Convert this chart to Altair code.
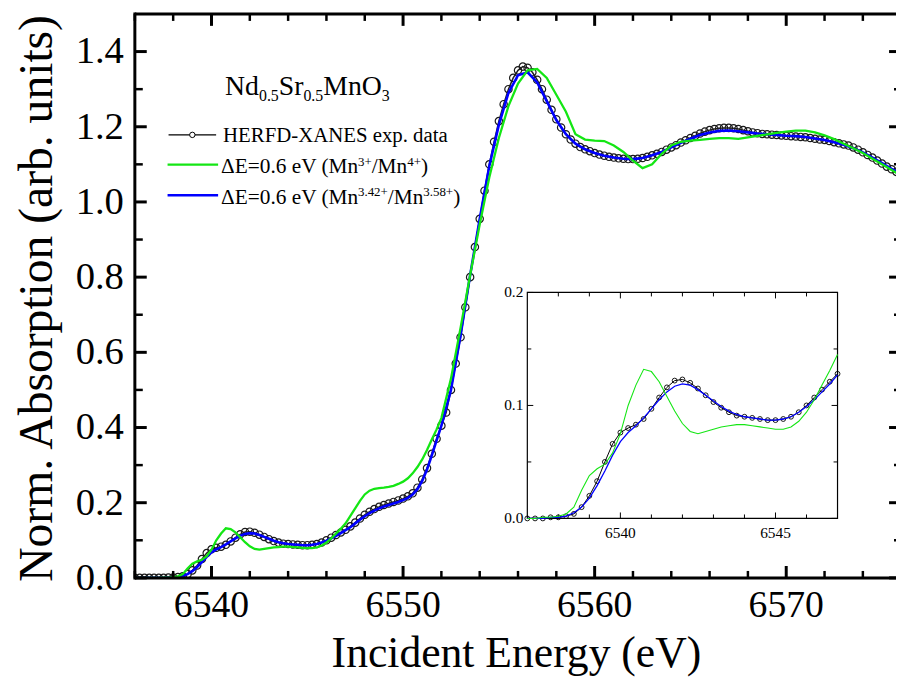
import altair as alt
import numpy as np
import pandas as pd

# ---------------- data ----------------
E_BLACK = np.round(np.arange(6536.0, 6576.001, 0.25), 2)
HERFD = [
    0.000, 0.000, 0.000, 0.000, 0.000, 0.000, 0.000, 0.001,   # 6536.00-6537.75
    0.001, 0.002, 0.004, 0.010, 0.020, 0.033, 0.050, 0.066,   # 6538.00-6539.75
    0.076, 0.080, 0.083, 0.088, 0.097, 0.107, 0.116, 0.122,   # 6540.00-6541.75
    0.123, 0.120, 0.115, 0.109, 0.103, 0.098, 0.094, 0.091,   # 6542.00-6543.75
    0.090, 0.089, 0.088, 0.087, 0.087, 0.088, 0.090, 0.094,   # 6544.00-6545.75
    0.100, 0.107, 0.114, 0.121, 0.128, 0.137, 0.147, 0.158,   # 6546.00-6547.75
    0.168, 0.176, 0.183, 0.189, 0.194, 0.198, 0.202, 0.206,   # 6548.00-6549.75
    0.211, 0.217, 0.225, 0.240, 0.262, 0.292, 0.330, 0.370,   # 6550.00-6551.75
    0.405, 0.440, 0.500, 0.570, 0.640, 0.720, 0.800, 0.880,   # 6552.00-6553.75
    0.955, 1.030, 1.100, 1.160, 1.215, 1.260, 1.300, 1.330,   # 6554.00-6555.75
    1.350, 1.360, 1.357, 1.345, 1.325, 1.300, 1.272, 1.245,   # 6556.00-6557.75
    1.220, 1.198, 1.180, 1.166, 1.155, 1.146, 1.140, 1.135,   # 6558.00-6559.75
    1.130, 1.126, 1.123, 1.120, 1.118, 1.116, 1.115, 1.114,   # 6560.00-6561.75
    1.114, 1.115, 1.117, 1.120, 1.124, 1.128, 1.133, 1.139,   # 6562.00-6563.75
    1.145, 1.151, 1.158, 1.164, 1.170, 1.176, 1.182, 1.187,   # 6564.00-6565.75
    1.191, 1.194, 1.196, 1.197, 1.197, 1.196, 1.194, 1.191,   # 6566.00-6567.75
    1.188, 1.185, 1.183, 1.181, 1.180, 1.179, 1.178, 1.177,   # 6568.00-6569.75
    1.176, 1.175, 1.174, 1.173, 1.172, 1.170, 1.168, 1.166,   # 6570.00-6571.75
    1.165, 1.162, 1.159, 1.156, 1.153, 1.150, 1.145, 1.139,   # 6572.00-6573.75
    1.132, 1.125, 1.118, 1.110, 1.102, 1.094, 1.087, 1.080,   # 6574.00-6575.75
    1.074,                                                    # 6576.00
]

E_CALC = np.concatenate([np.round(np.arange(6536.0, 6552.001, 0.25), 2),
                         np.round(np.arange(6552.5, 6576.001, 0.5), 2)])
CALC_GREEN = [
    0.000, 0.000, 0.000, 0.000, 0.000, 0.000, 0.001, 0.001,   # 6536.00-6537.75
    0.002, 0.004, 0.010, 0.025, 0.038, 0.044, 0.048, 0.058,   # 6538.00-6539.75
    0.075, 0.100, 0.118, 0.132, 0.130, 0.121, 0.108, 0.095,   # 6540.00-6541.75
    0.084, 0.077, 0.075, 0.077, 0.079, 0.081, 0.082, 0.083,   # 6542.00-6543.75
    0.083, 0.082, 0.081, 0.080, 0.079, 0.079, 0.081, 0.086,   # 6544.00-6545.75
    0.094, 0.105, 0.118, 0.131, 0.145, 0.165, 0.185, 0.205,   # 6546.00-6547.75
    0.222, 0.232, 0.237, 0.239, 0.240, 0.242, 0.245, 0.250,   # 6548.00-6549.75
    0.256, 0.265, 0.278, 0.295, 0.315, 0.340, 0.368, 0.395,   # 6550.00-6551.75
    0.425,                                                    # 6552.00
    0.530, 0.665, 0.805, 0.940, 1.065, 1.170, 1.255, 1.315,   # 6552.5-6556.0
    1.350, 1.354, 1.330, 1.285, 1.240, 1.180, 1.166, 1.163,   # 6556.5-6560.0
    1.162, 1.150, 1.133, 1.110, 1.090, 1.100, 1.128, 1.150,   # 6560.5-6564.0
    1.160, 1.163, 1.165, 1.168, 1.170, 1.170, 1.168, 1.172,   # 6564.5-6568.0
    1.176, 1.180, 1.184, 1.187, 1.190, 1.190, 1.185, 1.177,   # 6568.5-6572.0
    1.167, 1.155, 1.143, 1.130, 1.115, 1.100, 1.085, 1.070,   # 6572.5-6576.0
]
CALC_BLUE = [
    0.000, 0.000, 0.000, 0.000, 0.000, 0.000, 0.000, 0.001,   # 6536.00-6537.75
    0.001, 0.002, 0.005, 0.010, 0.018, 0.029, 0.042, 0.056,   # 6538.00-6539.75
    0.068, 0.076, 0.082, 0.089, 0.097, 0.105, 0.112, 0.117,   # 6540.00-6541.75
    0.119, 0.118, 0.114, 0.109, 0.104, 0.099, 0.095, 0.092,   # 6542.00-6543.75
    0.090, 0.089, 0.088, 0.087, 0.087, 0.088, 0.090, 0.094,   # 6544.00-6545.75
    0.099, 0.105, 0.112, 0.119, 0.127, 0.135, 0.145, 0.155,   # 6546.00-6547.75
    0.164, 0.172, 0.179, 0.185, 0.190, 0.194, 0.198, 0.202,   # 6548.00-6549.75
    0.207, 0.213, 0.222, 0.236, 0.258, 0.288, 0.326, 0.366,   # 6550.00-6551.75
    0.405,                                                    # 6552.00
    0.500, 0.645, 0.805, 0.955, 1.095, 1.205, 1.290, 1.337,   # 6552.5-6556.0
    1.345, 1.318, 1.268, 1.218, 1.180, 1.155, 1.140, 1.130,   # 6556.5-6560.0
    1.123, 1.118, 1.115, 1.114, 1.117, 1.124, 1.133, 1.145,   # 6560.5-6564.0
    1.157, 1.168, 1.178, 1.185, 1.189, 1.190, 1.188, 1.185,   # 6564.5-6568.0
    1.182, 1.180, 1.178, 1.176, 1.175, 1.173, 1.169, 1.165,   # 6568.5-6572.0
    1.159, 1.152, 1.143, 1.132, 1.118, 1.103, 1.088, 1.075,   # 6572.5-6576.0
]

X_DOMAIN = [6536.0, 6575.73]
Y_DOMAIN = [0.0, 1.5]
X_MAJOR = [6540, 6550, 6560, 6570]
X_MINOR = [6536, 6538, 6542, 6544, 6546, 6548, 6552, 6554, 6556, 6558,
           6562, 6564, 6566, 6568, 6572, 6574]
Y_MAJOR = [0.0, 0.2, 0.4, 0.6, 0.8, 1.0, 1.2, 1.4]
Y_MINOR = [0.1, 0.3, 0.5, 0.7, 0.9, 1.1, 1.3]

INSET_X_DOMAIN = [6537, 6547]
INSET_Y_DOMAIN = [0.0, 0.2]
INSET_X_MAJOR = [6540, 6545]
INSET_X_MINOR = [6538, 6539, 6541, 6542, 6543, 6544, 6546]
INSET_Y_MAJOR = [0.0, 0.1, 0.2]
INSET_Y_MINOR = [0.05, 0.15]

X_TITLE = "Incident Energy (eV)"
Y_TITLE = "Norm. Absorption (arb. units)"
COMPOUND = [("Nd", "n"), ("0.5", "sub"), ("Sr", "n"), ("0.5", "sub"), ("MnO", "n"), ("3", "sub")]
LEG_HERFD = "HERFD-XANES exp. data"
LEG_GREEN = [("ΔE=0.6 eV (Mn", "n"), ("3+", "sup"), ("/Mn", "n"), ("4+", "sup"), (")", "n")]
LEG_BLUE = [("ΔE=0.6 eV (Mn", "n"), ("3.42+", "sup"), ("/Mn", "n"), ("3.58+", "sup"), (")", "n")]

assert len(HERFD) == len(E_BLACK)
assert len(CALC_GREEN) == len(E_CALC) == len(CALC_BLUE)

# ---------------- layout / style ----------------
FONT = "Liberation Serif"
W, H = 768, 569
GREEN = "#14e614"
BLUE = "#0000ff"

df_black = pd.DataFrame({"E": E_BLACK, "v": HERFD})
df_calc = pd.DataFrame({"E": E_CALC, "green": CALC_GREEN, "blue": CALC_BLUE})

xs = alt.Scale(domain=X_DOMAIN, nice=False, zero=False)
ys = alt.Scale(domain=Y_DOMAIN, nice=False, zero=False)
one = pd.DataFrame({"a": [0]})


def X(field):
    return alt.X(field, scale=xs, axis=None)


def Y(field):
    return alt.Y(field, scale=ys, axis=None)


black_line = alt.Chart(df_black).mark_line(color="#222222", strokeWidth=1.5, clip=True).encode(
    x=X("E:Q"), y=Y("v:Q"))
black_pts = alt.Chart(df_black).mark_point(shape="circle", filled=False, stroke="#1a1a1a",
                                           strokeWidth=1.2, size=55, opacity=1, clip=True).encode(
    x=X("E:Q"), y=Y("v:Q"))
blue_line = alt.Chart(df_calc).mark_line(color=BLUE, strokeWidth=2.6, clip=True).encode(
    x=X("E:Q"), y=Y("blue:Q"))
green_line = alt.Chart(df_calc).mark_line(color=GREEN, strokeWidth=2.3, clip=True).encode(
    x=X("E:Q"), y=Y("green:Q"))


def xticks(vals, length, sw):
    d = pd.DataFrame({"t": vals})
    bot = alt.Chart(d).mark_rule(color="black", strokeWidth=sw).encode(
        x=X("t:Q"), y=alt.value(H), y2=alt.value(H - length))
    top = alt.Chart(d).mark_rule(color="black", strokeWidth=sw).encode(
        x=X("t:Q"), y=alt.value(0), y2=alt.value(length))
    return [bot, top]


def yticks(vals, length, right_len, sw):
    d = pd.DataFrame({"t": vals})
    left = alt.Chart(d).mark_rule(color="black", strokeWidth=sw).encode(
        y=Y("t:Q"), x=alt.value(0), x2=alt.value(length))
    right = alt.Chart(d).mark_rule(color="black", strokeWidth=sw).encode(
        y=Y("t:Q"), x=alt.value(W - right_len), x2=alt.value(W))
    return [left, right]


frame = [
    alt.Chart(one).mark_rule(color="black", strokeWidth=3).encode(
        x=alt.value(0), x2=alt.value(W), y=alt.value(0)),
    alt.Chart(one).mark_rule(color="black", strokeWidth=3).encode(
        x=alt.value(0), x2=alt.value(W), y=alt.value(H)),
    alt.Chart(one).mark_rule(color="black", strokeWidth=3).encode(
        x=alt.value(0), y=alt.value(-1.5), y2=alt.value(H + 1.5)),
]

x_labels = alt.Chart(pd.DataFrame({"t": X_MAJOR})).mark_text(
    font=FONT, fontSize=38, align="center", baseline="alphabetic", color="black").encode(
    x=X("t:Q"), y=alt.value(H + 39), text=alt.Text("t:Q", format="d"))
y_labels = alt.Chart(pd.DataFrame({"t": Y_MAJOR})).mark_text(
    font=FONT, fontSize=39, align="right", baseline="middle", color="black").encode(
    y=Y("t:Q"), x=alt.value(-11), text=alt.Text("t:Q", format=".1f"))
x_title = alt.Chart(pd.DataFrame({"s": [X_TITLE]})).mark_text(
    font=FONT, fontSize=44, align="center", baseline="alphabetic", color="black").encode(
    text="s:N", x=alt.value(W / 2 + 1), y=alt.value(H + 90))
y_title = alt.Chart(pd.DataFrame({"s": [Y_TITLE]})).mark_text(
    font=FONT, fontSize=48, align="center", baseline="alphabetic", angle=270, color="black").encode(
    text="s:N", x=alt.value(-84), y=alt.value(287))

# ---------- text helpers (Times metrics) ----------
CW = {'Δ': 0.612, 'E': 0.611, '=': 0.564, '0': 0.5, '.': 0.25, '6': 0.5, ' ': 0.25,
      'e': 0.444, 'V': 0.722, '(': 0.333, ')': 0.333, 'M': 0.889, 'n': 0.5, '/': 0.278,
      '3': 0.5, '4': 0.5, '2': 0.5, '5': 0.5, '8': 0.5, '+': 0.564, 'N': 0.722,
      'd': 0.5, 'S': 0.556, 'r': 0.333, 'O': 0.722}


def tw(s, fs):
    return sum(CW.get(c, 0.5) for c in s) * fs


def rich(pieces, x0, base, fs, sfs, shift):
    out = []
    x = x0
    for txt, kind in pieces:
        size = fs if kind == "n" else sfs
        yy = base if kind == "n" else (base + shift if kind == "sub" else base - shift)
        out.append(alt.Chart(pd.DataFrame({"s": [txt]})).mark_text(
            font=FONT, fontSize=size, align="left", baseline="alphabetic", color="black").encode(
            text="s:N", x=alt.value(x), y=alt.value(yy)))
        x += tw(txt, size)
    return out


legend = []
legend += rich(COMPOUND, 91, 82, 28, 16, 6)
legend.append(alt.Chart(one).mark_rule(color="black", strokeWidth=1.2).encode(
    x=alt.value(34), x2=alt.value(82), y=alt.value(122)))
legend.append(alt.Chart(one).mark_point(shape="circle", filled=True, fill="white", stroke="black",
                                        strokeWidth=1, size=30, opacity=1).encode(
    x=alt.value(58), y=alt.value(122)))
legend += rich([(LEG_HERFD, "n")], 89, 129, 21, 13, 7.5)
legend.append(alt.Chart(one).mark_rule(color=GREEN, strokeWidth=2.5).encode(
    x=alt.value(33), x2=alt.value(84), y=alt.value(152)))
legend += rich(LEG_GREEN, 87, 160.5, 21.5, 13, 7.5)
legend.append(alt.Chart(one).mark_rule(color=BLUE, strokeWidth=2.5).encode(
    x=alt.value(33), x2=alt.value(84), y=alt.value(183)))
legend += rich(LEG_BLUE, 87, 191.5, 21.5, 13, 7.5)

main = alt.layer(
    black_line, black_pts, blue_line, green_line,
    *xticks(X_MAJOR, 12, 3), *xticks(X_MINOR, 7, 2.5),
    *yticks(Y_MAJOR, 12, 7, 3), *yticks(Y_MINOR, 8, 2, 2.5),
    *frame, x_labels, y_labels, x_title, y_title, *legend,
)

# ---------------- inset ----------------
IX0, IX1 = 396, 709      # inset box, pixels inside plot
IY0, IY1 = 509, 281
ixs = alt.Scale(domain=INSET_X_DOMAIN, range=[IX0, IX1], nice=False, zero=False)
iys = alt.Scale(domain=INSET_Y_DOMAIN, range=[IY0, IY1], nice=False, zero=False)


def IX(field):
    return alt.X(field, scale=ixs, axis=None)


def IY(field):
    return alt.Y(field, scale=iys, axis=None)


box = pd.DataFrame({"x0": [INSET_X_DOMAIN[0]], "x1": [INSET_X_DOMAIN[1]],
                    "y0": [INSET_Y_DOMAIN[0]], "y1": [INSET_Y_DOMAIN[1]]})
inset_box = alt.Chart(box).mark_rect(fill="white", stroke="black", strokeWidth=1.2).encode(
    x=IX("x0:Q"), x2="x1:Q", y=IY("y0:Q"), y2="y1:Q")


def ixticks(vals, length):
    d = pd.DataFrame({"t": vals})
    return [alt.Chart(d).mark_rule(color="black", strokeWidth=1).encode(
                x=IX("t:Q"), y=alt.value(IY0), y2=alt.value(IY0 - length)),
            alt.Chart(d).mark_rule(color="black", strokeWidth=1).encode(
                x=IX("t:Q"), y=alt.value(IY1), y2=alt.value(IY1 + length))]


def iyticks(vals, length):
    d = pd.DataFrame({"t": vals})
    return [alt.Chart(d).mark_rule(color="black", strokeWidth=1).encode(
                y=IY("t:Q"), x=alt.value(IX0), x2=alt.value(IX0 + length)),
            alt.Chart(d).mark_rule(color="black", strokeWidth=1).encode(
                y=IY("t:Q"), x=alt.value(IX1), x2=alt.value(IX1 - length))]


ixlab = alt.Chart(pd.DataFrame({"t": INSET_X_MAJOR})).mark_text(
    font=FONT, fontSize=15.5, align="center", baseline="alphabetic", color="black").encode(
    x=IX("t:Q"), y=alt.value(IY0 + 20), text=alt.Text("t:Q", format="d"))
iylab = alt.Chart(pd.DataFrame({"t": INSET_Y_MAJOR})).mark_text(
    font=FONT, fontSize=15.5, align="right", baseline="middle", color="black").encode(
    y=IY("t:Q"), x=alt.value(IX0 - 4), text=alt.Text("t:Q", format=".1f"))

rng = alt.FieldRangePredicate(field="E", range=INSET_X_DOMAIN)
i_black_line = alt.Chart(df_black).transform_filter(rng).mark_line(
    color="black", strokeWidth=1).encode(x=IX("E:Q"), y=IY("v:Q"))
i_black_pts = alt.Chart(df_black).transform_filter(rng).mark_point(
    shape="circle", filled=False, stroke="black", strokeWidth=0.9, size=24, opacity=1).encode(
    x=IX("E:Q"), y=IY("v:Q"))
i_blue = alt.Chart(df_calc).transform_filter(rng).mark_line(color=BLUE, strokeWidth=1.3).encode(
    x=IX("E:Q"), y=IY("blue:Q"))
i_green = alt.Chart(df_calc).transform_filter(rng).mark_line(color=GREEN, strokeWidth=1.1).encode(
    x=IX("E:Q"), y=IY("green:Q"))

inset = alt.layer(
    inset_box, *ixticks(INSET_X_MAJOR, 6), *ixticks(INSET_X_MINOR, 4),
    *iyticks(INSET_Y_MAJOR, 6), *iyticks(INSET_Y_MINOR, 4),
    ixlab, iylab, i_black_line, i_black_pts, i_blue, i_green,
)

chart = alt.layer(main, inset).resolve_scale(x="independent", y="independent").properties(
    width=W, height=H,
    autosize=alt.AutoSizeParams(type="none"),
    padding={"left": 128, "top": 3, "right": 0, "bottom": 100},
    background="white",
).configure_view(strokeWidth=0)

chart.save("out.html", embed_options={"renderer": "svg", "actions": False})
